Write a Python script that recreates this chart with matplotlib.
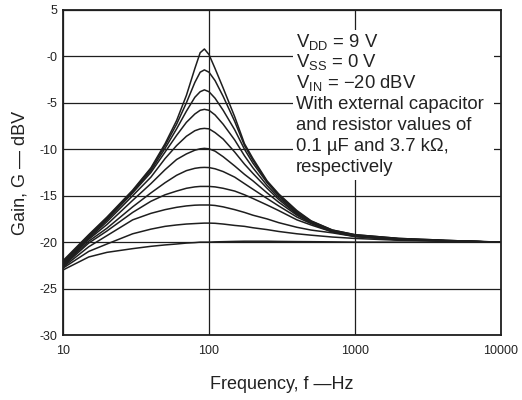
import matplotlib
matplotlib.use('Agg')
import matplotlib.pyplot as plt
from matplotlib.patches import Rectangle

plt.rcParams['font.family'] = ['Liberation Sans', 'DejaVu Sans']
plt.rcParams['mathtext.fontset'] = 'custom'
plt.rcParams['mathtext.rm'] = 'Liberation Sans'
plt.rcParams['mathtext.it'] = 'Liberation Sans'

# frequency grid (Hz)
freq = [10, 15, 20, 30, 40, 50, 60, 70, 80, 87, 93, 100, 110, 125, 150,
        175, 200, 250, 300, 400, 500, 700, 1000, 2000, 5000, 10000]

# gain curves (dBV), top to bottom
gain_0 = [-22.0, -19.2, -17.3, -14.4, -12.0, -9.4, -6.9, -4.2, -1.3, 0.4, 0.8, 0.2, -1.3, -3.4, -6.5,
          -9.4, -11.0, -13.4, -14.8, -16.6, -17.7, -18.7, -19.2, -19.6, -19.85, -20.0]
gain_1 = [-22.1, -19.3, -17.4, -14.5, -12.1, -9.6, -7.3, -5.0, -2.8, -1.7, -1.45, -1.7, -2.6, -4.3, -7.0,
          -9.6, -11.2, -13.5, -14.9, -16.7, -17.75, -18.7, -19.2, -19.6, -19.85, -20.0]
gain_2 = [-22.2, -19.4, -17.5, -14.6, -12.3, -9.9, -7.8, -5.9, -4.4, -3.8, -3.6, -3.8, -4.5, -5.8, -7.9,
          -10.0, -11.5, -13.6, -15.0, -16.8, -17.8, -18.8, -19.25, -19.65, -19.9, -20.0]
gain_3 = [-22.3, -19.5, -17.6, -14.7, -12.5, -10.3, -8.5, -7.1, -6.2, -5.8, -5.7, -5.8, -6.3, -7.3, -9.0,
          -10.7, -12.0, -13.9, -15.2, -16.9, -17.85, -18.8, -19.3, -19.65, -19.9, -20.0]
gain_4 = [-22.3, -19.6, -17.8, -15.0, -13.0, -11.0, -9.6, -8.6, -8.0, -7.8, -7.75, -7.8, -8.2, -8.9, -10.3,
          -11.6, -12.6, -14.2, -15.4, -17.0, -17.9, -18.8, -19.3, -19.7, -19.9, -20.0]
gain_5 = [-22.4, -19.7, -18.1, -15.5, -13.7, -12.2, -11.1, -10.5, -10.1, -9.95, -9.9, -9.95, -10.2, -10.8, -11.8,
          -12.7, -13.4, -14.7, -15.7, -17.1, -17.95, -18.8, -19.3, -19.7, -19.9, -20.0]
gain_6 = [-22.5, -19.9, -18.5, -16.2, -14.7, -13.6, -12.8, -12.3, -12.05, -11.97, -11.95, -11.97, -12.1, -12.4, -13.0,
          -13.7, -14.3, -15.3, -16.1, -17.3, -18.0, -18.9, -19.35, -19.7, -19.9, -20.0]
gain_7 = [-22.6, -20.1, -18.8, -16.8, -15.6, -14.9, -14.5, -14.2, -14.05, -14.0, -14.0, -14.0, -14.05, -14.2, -14.5,
          -14.9, -15.3, -16.0, -16.6, -17.6, -18.15, -18.9, -19.4, -19.75, -19.9, -20.0]
gain_8 = [-22.7, -20.5, -19.3, -17.6, -16.9, -16.5, -16.25, -16.1, -16.02, -16.0, -16.0, -16.0, -16.05, -16.2, -16.5,
          -16.8, -17.1, -17.5, -17.9, -18.4, -18.7, -19.0, -19.4, -19.75, -19.9, -20.0]
gain_9 = [-22.8, -21.0, -20.2, -19.1, -18.6, -18.3, -18.15, -18.05, -18.0, -17.97, -17.95, -17.95, -17.97, -18.05, -18.2,
          -18.3, -18.45, -18.65, -18.85, -19.1, -19.25, -19.45, -19.6, -19.8, -19.9, -20.0]
gain_10 = [-23.0, -21.6, -21.1, -20.7, -20.45, -20.3, -20.2, -20.1, -20.05, -20.0, -20.0, -20.0, -19.97, -19.95, -19.92,
           -19.9, -19.9, -19.9, -19.92, -19.94, -19.95, -19.97, -20.0, -20.0, -20.0, -20.0]
curves = [gain_0, gain_1, gain_2, gain_3, gain_4, gain_5, gain_6, gain_7, gain_8, gain_9, gain_10]

x_ticks = [10, 100, 1000, 10000]
x_tick_labels = ['10', '100', '1000', '10000']
y_ticks = [5, 0, -5, -10, -15, -20, -25, -30]
y_tick_labels = ['5', '-0', '-5', '-10', '-15', '-20', '-25', '-30']

note_lines = [
    r'V$_{\mathrm{DD}}$ = 9 V',
    r'V$_{\mathrm{SS}}$ = 0 V',
    'V$_{\\mathrm{IN}}$ = \u221220 dBV',
    'With external capacitor',
    'and resistor values of',
    '0.1 \u00b5F and 3.7 k\u03a9,',
    'respectively',
]

fig = plt.figure(figsize=(5.22, 4.0), dpi=100)
ax = fig.add_axes([63 / 522, 65 / 400, 438 / 522, 325 / 400])

for g in curves:
    ax.plot(freq, g, color='#1e1e1e', lw=1.1, zorder=3)

ax.set_xscale('log')
ax.set_xlim(10, 10000)
ax.set_ylim(-30, 5)
ax.set_xticks(x_ticks)
ax.set_xticklabels(x_tick_labels)
ax.xaxis.set_minor_locator(plt.NullLocator())
ax.set_yticks(y_ticks)
ax.set_yticklabels(y_tick_labels)
ax.tick_params(length=0, labelsize=9, colors='#222222')
ax.tick_params(axis='x', pad=7)
ax.tick_params(axis='y', pad=4)
ax.grid(True, color='#1e1e1e', lw=0.9)
for s in ax.spines.values():
    s.set_linewidth(1.3)
    s.set_color('#1e1e1e')

ax.set_xlabel('Frequency, f \u2014Hz', fontsize=13, labelpad=14, color='#222222')
ax.set_ylabel('Gain, G \u2014 dBV', fontsize=13, labelpad=8, color='#222222')

# white box behind the conditions note
ax.add_patch(Rectangle((0.525, 0.477), 0.459, 0.461, transform=ax.transAxes,
                       facecolor='white', edgecolor='none', zorder=2))
for i, line in enumerate(note_lines):
    base_px = 46.7 + i * 20.8
    ax.text(0.532, (335 - base_px) / 325, line, transform=ax.transAxes,
            fontsize=13.3, va='baseline', ha='left', color='#222222', zorder=4)

fig.savefig('out.png', dpi=100)
